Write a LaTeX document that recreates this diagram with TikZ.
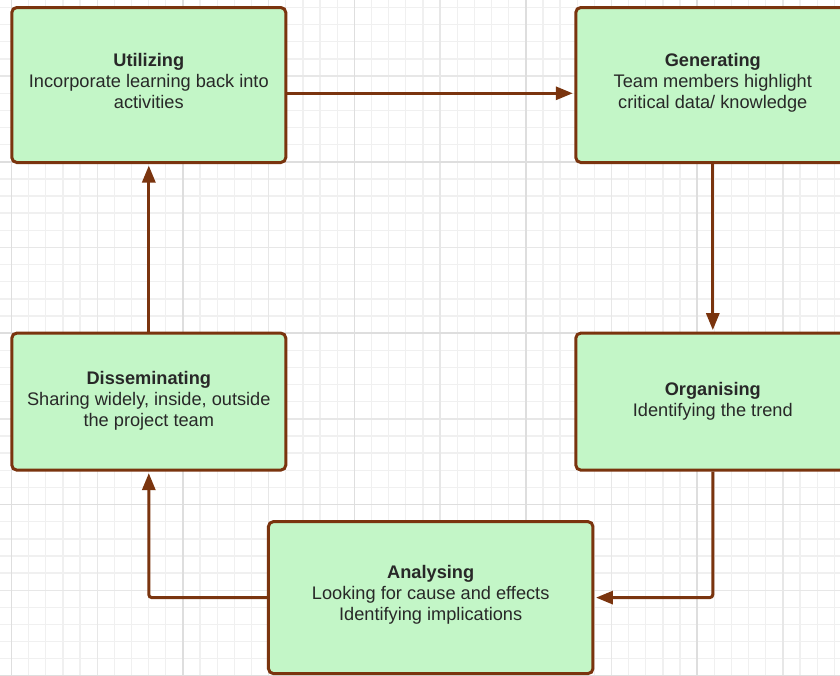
\documentclass[tikz,border=0pt]{standalone}
\usepackage{fontspec}
\setmainfont{Liberation Sans}
\usetikzlibrary{arrows.meta}

\definecolor{boxfill}{RGB}{195,246,199}
\definecolor{boxline}{RGB}{122,52,14}
\definecolor{txt}{RGB}{40,40,40}
\definecolor{gridminor}{RGB}{240,240,240}
\definecolor{gridmid}{RGB}{231,231,231}
\definecolor{gridmajor}{RGB}{222,222,222}

\tikzset{
  stagebox/.style={draw=boxline, line width=3pt, fill=boxfill, rounded corners=5pt,
    inner sep=0pt},
  stagetext/.style={inner sep=0pt, align=center, text=txt,
    font=\fontsize{18.2}{21}\selectfont},
  flow/.style={draw=boxline, line width=3pt, rounded corners=3pt,
    -{Triangle[length=17pt,width=13pt]}, shorten >=1.5pt},
  gminor/.style={draw=gridminor, line width=1.3pt},
  gmid/.style={draw=gridmid, line width=1.4pt},
  gmajor/.style={draw=gridmajor, line width=1.6pt}
}

\begin{document}
\begin{tikzpicture}[x=1pt, y=-1pt]
  \useasboundingbox (0,0) rectangle (840,675);
  \clip (0,0) rectangle (840,675);
  \fill[white] (0,0) rectangle (840,675);

  % background grid: 17.14px cells, heavier lines every 5 and 10 cells
  \foreach \i in {0,...,48}
    \draw[gminor] ({11.5+\i*17.142},0) -- ({11.5+\i*17.142},675);
  \foreach \j in {0,...,39}
    \draw[gminor] (0,{7.44+\j*17.142}) -- (840,{7.44+\j*17.142});
  \foreach \i in {5,15,25,35,45}
    \draw[gmid] ({11.5+\i*17.142},0) -- ({11.5+\i*17.142},675);
  \foreach \j in {4,14,24,34}
    \draw[gmid] (0,{7.44+\j*17.142}) -- (840,{7.44+\j*17.142});
  \foreach \i in {0,10,20,30,40}
    \draw[gmajor] ({11.5+\i*17.142},0) -- ({11.5+\i*17.142},675);
  \foreach \j in {-1,9,19,29,39}
    \draw[gmajor] (0,{7.44+\j*17.142}) -- (840,{7.44+\j*17.142});

  % stages of the cycle
  \node[stagebox, minimum width=274pt, minimum height=155pt] (util) at (148.8,85) {};
  \node[stagebox, minimum width=274pt, minimum height=155pt] (gen) at (712.8,85) {};
  \node[stagebox, minimum width=274pt, minimum height=137pt] (org) at (712.8,401.6) {};
  \node[stagebox, minimum width=274pt, minimum height=137pt] (dis) at (148.8,401.6) {};
  \node[stagebox, minimum width=324.5pt, minimum height=152pt] (ana) at (430.7,597.6) {};

  % stage captions
  \node[stagetext] (util-t) at ([yshift=4pt]util.center)
    {\textbf{Utilizing}\\Incorporate learning back into\\activities};
  \node[stagetext] (gen-t) at ([yshift=2pt]gen.center)
    {\textbf{Generating}\\Team members highlight\\critical data/ knowledge};
  \node[stagetext] (org-t) at (org.center)
    {\textbf{Organising}\\Identifying the trend};
  \node[stagetext] (dis-t) at ([yshift=1pt]dis.center)
    {\textbf{Disseminating}\\Sharing widely, inside, outside\\the project team};
  \node[stagetext] (ana-t) at ([yshift=3pt]ana.center)
    {\textbf{Analysing}\\Looking for cause and effects\\Identifying implications};

  % connectors
  \draw[flow] ([yshift=-8.3pt]util.east) -- ([yshift=-8.3pt]gen.west);
  \draw[flow] (gen.south) -- (org.north);
  \draw[flow] (org.south) |- (ana.east);
  \draw[flow] (ana.west) -| (dis.south);
  \draw[flow] (dis.north) -- (util.south);
\end{tikzpicture}
\end{document}
